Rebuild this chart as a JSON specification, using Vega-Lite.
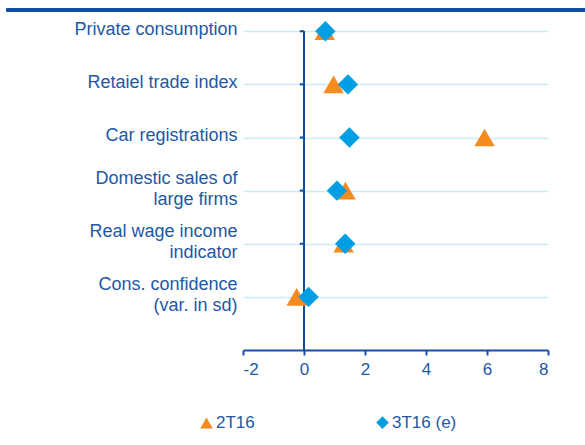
{
  "$schema": "https://vega.github.io/schema/vega-lite/v6.json",
  "width": 305,
  "height": 340,
  "autosize": "none",
  "padding": {"left": 243, "top": 10, "right": 37, "bottom": 95},
  "background": "white",
  "config": {
    "view": {"stroke": null},
    "font": "Liberation Sans",
    "axis": {"labelFont": "Liberation Sans", "labelColor": "#2158A6", "labelFontSize": 17}
  },
  "data": {
    "values": [
      {"indicator": "Private consumption", "idx": 6, "series": "2T16", "value": 0.68},
      {"indicator": "Private consumption", "idx": 6, "series": "3T16 (e)", "value": 0.7},
      {"indicator": "Retaiel trade index", "idx": 5, "series": "2T16", "value": 0.97},
      {"indicator": "Retaiel trade index", "idx": 5, "series": "3T16 (e)", "value": 1.44},
      {"indicator": "Car registrations", "idx": 4, "series": "2T16", "value": 5.92},
      {"indicator": "Car registrations", "idx": 4, "series": "3T16 (e)", "value": 1.49},
      {"indicator": "Domestic sales of large firms", "idx": 3, "series": "2T16", "value": 1.36},
      {"indicator": "Domestic sales of large firms", "idx": 3, "series": "3T16 (e)", "value": 1.08},
      {"indicator": "Real wage income indicator", "idx": 2, "series": "2T16", "value": 1.3},
      {"indicator": "Real wage income indicator", "idx": 2, "series": "3T16 (e)", "value": 1.35},
      {"indicator": "Cons. confidence (var. in sd)", "idx": 1, "series": "2T16", "value": -0.24},
      {"indicator": "Cons. confidence (var. in sd)", "idx": 1, "series": "3T16 (e)", "value": 0.15}
    ]
  },
  "layer": [
    {
      "mark": {"type": "rule", "color": "#0B4EA2", "strokeWidth": 2.5},
      "encoding": {
        "x": {"datum": -9.75, "type": "quantitative", "scale": {"domain": [-2, 8]}},
        "x2": {"datum": 9.25},
        "y": {"datum": 6.4, "type": "quantitative"}
      }
    },
    {
      "mark": {"type": "rule", "color": "#0B4EA2", "strokeWidth": 2},
      "encoding": {
        "x": {"datum": 0, "type": "quantitative"},
        "y": {"datum": 0, "type": "quantitative"},
        "y2": {"datum": 6}
      }
    },
    {
      "transform": [{"filter": "datum.series == '2T16'"}],
      "mark": {"type": "rule", "color": "#0B4EA2", "strokeWidth": 2},
      "encoding": {
        "x": {"datum": -0.14, "type": "quantitative"},
        "x2": {"datum": 0},
        "y": {"field": "idx", "type": "quantitative"}
      }
    },
    {
      "mark": {"type": "point", "filled": true, "opacity": 1, "size": 420},
      "encoding": {
        "x": {
          "field": "value",
          "type": "quantitative",
          "scale": {"domain": [-2, 8], "nice": false, "zero": false},
          "axis": {
            "title": null,
            "values": [-2, 0, 2, 4, 6, 8],
            "labelExpr": "'' + datum.value",
            "grid": false,
            "domainColor": "#1550A6",
            "domainWidth": 2,
            "tickColor": "#1550A6",
            "tickWidth": 2,
            "tickSize": 5,
            "labelPadding": 6
          }
        },
        "y": {
          "field": "idx",
          "type": "quantitative",
          "scale": {"domain": [0, 6.4], "nice": false},
          "axis": {
            "title": null,
            "values": [1, 2, 3, 4, 5, 6],
            "domain": false,
            "ticks": false,
            "grid": true,
            "gridColor": "#CBEBF7",
            "gridWidth": 1.5,
            "labelPadding": 6,
            "labelFontSize": 18,
            "labelLineHeight": 20.5,
            "labelBaseline": "middle",
            "labelOffset": {"condition": {"test": "datum.value <= 3", "value": -12}, "value": -2},
            "labelExpr": "datum.value == 6 ? 'Private consumption' : datum.value == 5 ? 'Retaiel trade index' : datum.value == 4 ? 'Car registrations' : datum.value == 3 ? ['Domestic sales of', 'large firms'] : datum.value == 2 ? ['Real wage income', 'indicator'] : ['Cons. confidence', '(var. in sd)']"
          }
        },
        "color": {
          "field": "series",
          "type": "nominal",
          "scale": {"domain": ["2T16", "3T16 (e)"], "range": ["#F58A1F", "#009FE3"]},
          "legend": {
            "title": null,
            "orient": "none",
            "direction": "horizontal",
            "legendX": -45,
            "legendY": 404,
            "labelFontSize": 17,
            "labelColor": "#2158A6",
            "labelFont": "Liberation Sans",
            "symbolSize": 160,
            "symbolOpacity": 1,
            "labelOffset": 1,
            "columnPadding": 118,
            "padding": 0
          }
        },
        "shape": {
          "field": "series",
          "type": "nominal",
          "scale": {"domain": ["2T16", "3T16 (e)"], "range": ["triangle-up", "diamond"]}
        },
        "order": {"field": "series", "sort": "ascending"}
      }
    }
  ]
}
